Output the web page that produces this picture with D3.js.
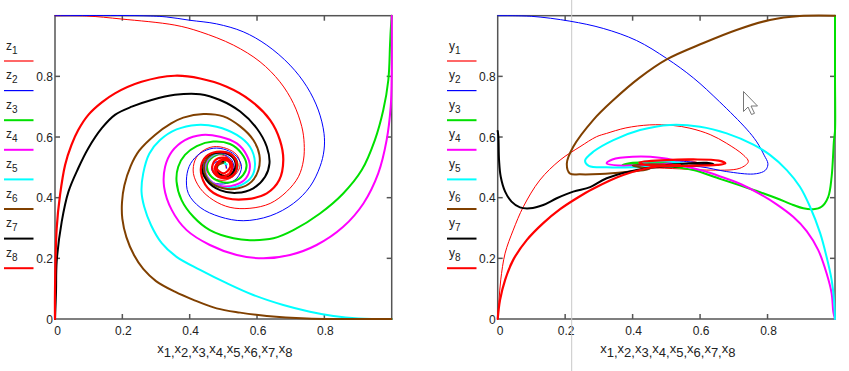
<!DOCTYPE html>
<html><head><meta charset="utf-8">
<script src="https://cdn.jsdelivr.net/npm/d3@7"></script>
<style>
body{margin:0;background:#fff}
svg{display:block}
text{font-family:"Liberation Sans",Arial,sans-serif;fill:#222}
</style>
</head><body>
<svg id="c" width="849" height="371"></svg>
<script>
// ---------- data ----------
const xTicks = [0, 0.2, 0.4, 0.6, 0.8];
const yTicks = [0, 0.2, 0.4, 0.6, 0.8];
const traceIds = ["1","2","3","4","5","6","7","8"];
const xTitleVars = ["x1","x2","x3","x4","x5","x6","x7","x8"];

// left panel: z_i against x_i  ([x, z] pairs)
const z1 = [[0,1],[0.094,0.999],[0.198,0.989],[0.356,0.969],[0.431,0.947],[0.530,0.903],[0.609,0.848],[0.668,0.782],[0.708,0.711],[0.733,0.634],[0.740,0.579],[0.738,0.524],[0.723,0.469],[0.688,0.420],[0.639,0.381],[0.579,0.365],[0.520,0.368],[0.470,0.392],[0.431,0.431],[0.411,0.480],[0.416,0.524],[0.436,0.552],[0.470,0.568],[0.510,0.562],[0.540,0.541],[0.550,0.508],[0.535,0.475],[0.505,0.458],[0.470,0.464],[0.450,0.491],[0.455,0.524],[0.480,0.541],[0.510,0.535],[0.525,0.508],[0.515,0.480],[0.490,0.475],[0.475,0.497],[0.485,0.519],[0.505,0.515],[0.508,0.498]];
const z2 = [[0,1],[0.25,1.0],[0.33,0.996],[0.40,0.985],[0.480,0.973],[0.559,0.947],[0.629,0.903],[0.698,0.837],[0.748,0.766],[0.782,0.689],[0.799,0.612],[0.799,0.557],[0.787,0.502],[0.757,0.436],[0.708,0.381],[0.639,0.340],[0.559,0.324],[0.490,0.337],[0.431,0.368],[0.396,0.414],[0.391,0.469],[0.403,0.513],[0.431,0.546],[0.470,0.563],[0.510,0.557],[0.540,0.535],[0.554,0.502],[0.540,0.464],[0.510,0.447],[0.470,0.449],[0.446,0.475],[0.441,0.508],[0.460,0.535],[0.495,0.544],[0.525,0.524],[0.530,0.491],[0.510,0.469],[0.480,0.471],[0.465,0.497],[0.480,0.519],[0.505,0.513],[0.510,0.497]];
const z3 = [[1,1],[0.997,0.95],[0.995,0.903],[0.990,0.788],[0.975,0.689],[0.950,0.590],[0.911,0.491],[0.856,0.414],[0.787,0.348],[0.708,0.293],[0.649,0.266],[0.579,0.260],[0.530,0.266],[0.460,0.293],[0.411,0.337],[0.376,0.392],[0.361,0.453],[0.366,0.502],[0.386,0.541],[0.421,0.570],[0.470,0.585],[0.520,0.577],[0.554,0.546],[0.569,0.508],[0.559,0.475],[0.530,0.453],[0.490,0.453],[0.460,0.475],[0.452,0.508],[0.470,0.535],[0.500,0.546],[0.530,0.535],[0.542,0.508],[0.530,0.480],[0.500,0.471],[0.478,0.491],[0.485,0.515],[0.505,0.517]];
const z4 = [[1,1],[1.0,0.799],[0.997,0.700],[0.985,0.590],[0.960,0.480],[0.916,0.381],[0.856,0.304],[0.777,0.244],[0.698,0.211],[0.619,0.200],[0.540,0.211],[0.460,0.244],[0.391,0.293],[0.347,0.359],[0.324,0.436],[0.327,0.502],[0.347,0.552],[0.386,0.590],[0.436,0.607],[0.490,0.601],[0.540,0.579],[0.569,0.541],[0.579,0.502],[0.567,0.464],[0.535,0.442],[0.495,0.438],[0.460,0.458],[0.446,0.491],[0.455,0.526],[0.485,0.546],[0.520,0.541],[0.540,0.513],[0.535,0.482],[0.510,0.467],[0.485,0.480],[0.480,0.508],[0.500,0.521]];
const z5 = [[1,0],[0.901,0.002],[0.827,0.010],[0.757,0.024],[0.678,0.046],[0.589,0.079],[0.510,0.118],[0.431,0.162],[0.361,0.205],[0.317,0.250],[0.285,0.310],[0.265,0.370],[0.257,0.420],[0.262,0.480],[0.280,0.545],[0.312,0.590],[0.361,0.625],[0.421,0.640],[0.480,0.634],[0.540,0.607],[0.579,0.568],[0.594,0.513],[0.584,0.469],[0.554,0.442],[0.510,0.431],[0.470,0.445],[0.446,0.480],[0.448,0.519],[0.475,0.544],[0.510,0.549],[0.535,0.524],[0.540,0.491],[0.520,0.469],[0.490,0.469],[0.475,0.493],[0.490,0.515],[0.510,0.510]];
const z6 = [[1,0],[0.748,0.002],[0.629,0.010],[0.550,0.021],[0.480,0.035],[0.411,0.063],[0.356,0.090],[0.300,0.125],[0.262,0.165],[0.235,0.210],[0.212,0.270],[0.200,0.330],[0.199,0.385],[0.206,0.440],[0.225,0.505],[0.250,0.555],[0.297,0.607],[0.345,0.645],[0.381,0.664],[0.441,0.676],[0.500,0.668],[0.550,0.635],[0.589,0.590],[0.607,0.541],[0.604,0.491],[0.584,0.453],[0.545,0.431],[0.500,0.431],[0.460,0.453],[0.443,0.491],[0.450,0.526],[0.480,0.548],[0.518,0.546],[0.540,0.519],[0.535,0.486],[0.510,0.469],[0.485,0.480],[0.483,0.505],[0.500,0.515]];
const z7 = [[0,0],[0.003,0.090],[0.005,0.189],[0.020,0.321],[0.040,0.420],[0.069,0.497],[0.099,0.563],[0.139,0.629],[0.178,0.673],[0.228,0.700],[0.287,0.722],[0.356,0.739],[0.431,0.741],[0.490,0.722],[0.550,0.684],[0.599,0.629],[0.629,0.568],[0.637,0.513],[0.624,0.469],[0.589,0.431],[0.540,0.416],[0.490,0.425],[0.450,0.458],[0.436,0.502],[0.450,0.535],[0.480,0.548],[0.515,0.544],[0.535,0.519],[0.530,0.486],[0.505,0.471],[0.480,0.486],[0.482,0.513],[0.500,0.520]];
const z8 = [[0,0],[0,0.09],[0.005,0.299],[0.015,0.409],[0.030,0.508],[0.049,0.574],[0.069,0.623],[0.099,0.673],[0.139,0.714],[0.178,0.744],[0.257,0.782],[0.356,0.802],[0.431,0.793],[0.510,0.766],[0.579,0.722],[0.639,0.656],[0.668,0.590],[0.678,0.524],[0.666,0.458],[0.629,0.414],[0.569,0.395],[0.510,0.398],[0.460,0.425],[0.436,0.469],[0.436,0.513],[0.455,0.541],[0.490,0.552],[0.525,0.541],[0.540,0.508],[0.530,0.475],[0.500,0.464],[0.473,0.480],[0.468,0.508],[0.485,0.530],[0.515,0.527],[0.527,0.502],[0.515,0.475],[0.490,0.471],[0.475,0.497],[0.490,0.523],[0.515,0.520],[0.520,0.500],[0.500,0.480],[0.478,0.500],[0.495,0.522]];

// right panel: y_i against x_i  ([x, y] pairs)
const y1 = [[0,0],[0.004,0.063],[0.009,0.129],[0.022,0.217],[0.046,0.293],[0.076,0.370],[0.125,0.458],[0.185,0.524],[0.244,0.568],[0.293,0.601],[0.323,0.612],[0.380,0.630],[0.451,0.640],[0.520,0.638],[0.570,0.629],[0.630,0.608],[0.679,0.579],[0.728,0.541],[0.743,0.519],[0.718,0.497],[0.620,0.491],[0.540,0.495],[0.450,0.500],[0.400,0.507],[0.420,0.515],[0.500,0.522],[0.580,0.520],[0.600,0.510],[0.550,0.503],[0.480,0.503]];
const y2 = [[0,1],[0.10,0.998],[0.214,0.982],[0.313,0.958],[0.412,0.918],[0.501,0.859],[0.580,0.795],[0.658,0.716],[0.738,0.626],[0.768,0.584],[0.790,0.540],[0.801,0.513],[0.797,0.495],[0.788,0.486],[0.758,0.478],[0.679,0.486],[0.600,0.502],[0.500,0.505],[0.420,0.508],[0.450,0.520],[0.550,0.520],[0.620,0.510],[0.550,0.505]];
const y3 = [[1,1],[1,0.8],[1.0,0.62],[0.997,0.59],[0.990,0.469],[0.980,0.403],[0.960,0.370],[0.936,0.362],[0.906,0.365],[0.876,0.376],[0.827,0.398],[0.778,0.418],[0.720,0.440],[0.659,0.462],[0.580,0.491],[0.521,0.502],[0.461,0.508],[0.402,0.511],[0.370,0.508],[0.400,0.515],[0.500,0.515],[0.560,0.508],[0.500,0.503]];
const y4 = [[1,0],[0.995,0.024],[0.990,0.085],[0.975,0.151],[0.950,0.228],[0.916,0.290],[0.876,0.337],[0.827,0.378],[0.778,0.412],[0.720,0.445],[0.660,0.470],[0.600,0.491],[0.541,0.505],[0.450,0.508],[0.360,0.506],[0.323,0.513],[0.340,0.526],[0.400,0.535],[0.480,0.532],[0.530,0.520],[0.500,0.512],[0.420,0.510]];
const y5 = [[1,0],[0.997,0.063],[0.990,0.129],[0.975,0.205],[0.956,0.283],[0.926,0.370],[0.896,0.436],[0.857,0.491],[0.807,0.541],[0.758,0.575],[0.679,0.612],[0.600,0.634],[0.511,0.640],[0.422,0.623],[0.343,0.590],[0.284,0.552],[0.259,0.522],[0.270,0.505],[0.323,0.500],[0.400,0.500],[0.470,0.505],[0.420,0.515],[0.500,0.520],[0.560,0.510]];
const y6 = [[1,1],[0.896,0.999],[0.807,0.986],[0.708,0.953],[0.610,0.910],[0.501,0.856],[0.420,0.795],[0.343,0.722],[0.283,0.656],[0.224,0.568],[0.205,0.513],[0.214,0.480],[0.244,0.477],[0.303,0.478],[0.380,0.485],[0.450,0.495],[0.400,0.505],[0.450,0.510],[0.520,0.508]];
const y7 = [[0,0.62],[0.002,0.601],[0.004,0.524],[0.009,0.469],[0.022,0.420],[0.041,0.387],[0.066,0.368],[0.096,0.365],[0.135,0.376],[0.175,0.398],[0.224,0.420],[0.274,0.435],[0.323,0.464],[0.442,0.497],[0.540,0.504],[0.600,0.508],[0.640,0.510],[0.620,0.515],[0.550,0.512],[0.500,0.508]];
const y8 = [[0,0],[0.007,0.063],[0.022,0.129],[0.046,0.195],[0.086,0.260],[0.135,0.316],[0.185,0.362],[0.234,0.398],[0.280,0.428],[0.372,0.475],[0.471,0.502],[0.560,0.505],[0.650,0.508],[0.675,0.513],[0.655,0.522],[0.580,0.526],[0.500,0.524],[0.420,0.516],[0.440,0.508],[0.540,0.508]];

// ---------- styles ----------
const colors = ["#ff0000","#0000ff","#00e000","#ff00ff","#00ffff","#804000","#000000","#ff0000"];
const widths = [1, 1, 2, 2, 2, 2, 2, 2.2];

const svg = d3.select("#c");
const panels = [
  {letter:"z", series:[z1,z2,z3,z4,z5,z6,z7,z8], left:55, right:391.7, legendX:4},
  {letter:"y", series:[y1,y2,y3,y4,y5,y6,y7,y8], left:497.7, right:835, legendX:447}
];
const plotTop = 15.7, plotBottom = 319;

panels.forEach((p, pi) => {
  const g = svg.append("g");
  const x = d3.scaleLinear().domain([0,1]).range([p.left, p.right]);
  const y = d3.scaleLinear().domain([0,1]).range([plotBottom, plotTop]);

  // frame
  g.append("rect").attr("x", p.left).attr("y", plotTop)
    .attr("width", p.right - p.left).attr("height", plotBottom - plotTop)
    .attr("fill", "none").attr("stroke", "#555").attr("stroke-width", 1.5);

  // inward ticks on all sides
  const inner = xTicks.filter(t => t > 0);
  const tk = g.append("g").attr("stroke", "#555").attr("stroke-width", 1.5);
  inner.forEach(t => {
    tk.append("line").attr("x1", x(t)).attr("x2", x(t)).attr("y1", plotBottom).attr("y2", plotBottom - 5);
    tk.append("line").attr("x1", x(t)).attr("x2", x(t)).attr("y1", plotTop).attr("y2", plotTop + 5);
    tk.append("line").attr("y1", y(t)).attr("y2", y(t)).attr("x1", p.left).attr("x2", p.left + 5);
    tk.append("line").attr("y1", y(t)).attr("y2", y(t)).attr("x1", p.right).attr("x2", p.right - 5);
  });

  // tick labels
  g.selectAll(".xl").data(xTicks).enter().append("text")
    .attr("x", d => x(d) + (d === 0 ? 2.5 : 1)).attr("y", 334.5)
    .attr("text-anchor", "middle").attr("font-size", 12)
    .text(d => d3.format("~g")(d));
  g.selectAll(".yl").data(yTicks).enter().append("text")
    .attr("x", p.left - 2).attr("y", d => y(d) + (d === 0 ? 5 : 4.5))
    .attr("text-anchor", "end").attr("font-size", 12)
    .text(d => d3.format("~g")(d));

  // x-axis title with subscripts
  const tt = g.append("text").attr("x", (p.left + p.right) / 2 + 1.5).attr("y", 353)
    .attr("text-anchor", "middle").attr("font-size", 13);
  xTitleVars.forEach((v, i) => {
    tt.append("tspan").text(v[0]).attr("dy", i === 0 ? 0 : -4);
    tt.append("tspan").text(v.slice(1)).attr("dy", 4);
    if (i < xTitleVars.length - 1) tt.append("tspan").text(",");
  });

  // cursor line (right panel only)
  if (pi === 1) {
    svg.append("line").attr("x1", 571.7).attr("x2", 571.7).attr("y1", 0).attr("y2", 371)
      .attr("stroke", "#c8c8c8").attr("stroke-width", 1);
  }

  // traces
  const line = d3.line().x(d => x(d[0])).y(d => y(d[1])).curve(d3.curveCatmullRom.alpha(0.5));
  p.series.forEach((s, i) => {
    svg.append("path").attr("d", line(s)).attr("fill", "none")
      .attr("stroke", colors[i]).attr("stroke-width", widths[i])
      .attr("stroke-linejoin", "round").attr("stroke-linecap", "round");
  });

  // legend
  traceIds.forEach((id, i) => {
    const ly = 61 + i * 29.6;
    const t = svg.append("text").attr("x", p.legendX + 2).attr("y", ly - 11.5).attr("font-size", 12);
    t.append("tspan").text(p.letter);
    t.append("tspan").text(id).attr("dy", 4).attr("font-size", 10);
    svg.append("line").attr("x1", p.legendX).attr("x2", p.legendX + 29.5)
      .attr("y1", ly).attr("y2", ly).attr("stroke", colors[i]).attr("stroke-width", widths[i] > 1 ? 2 : 1.2);
  });
});

// mouse pointer seen in the reference
svg.append("path")
  .attr("d", "M0,0 L0,20 L4.5,15.5 L8,23 L11,21.8 L7.5,14.5 L14,14.5 Z")
  .attr("transform", "translate(743.5,91.5)")
  .attr("fill", "#fff").attr("stroke", "#777").attr("stroke-width", 1);
</script>
</body></html>
